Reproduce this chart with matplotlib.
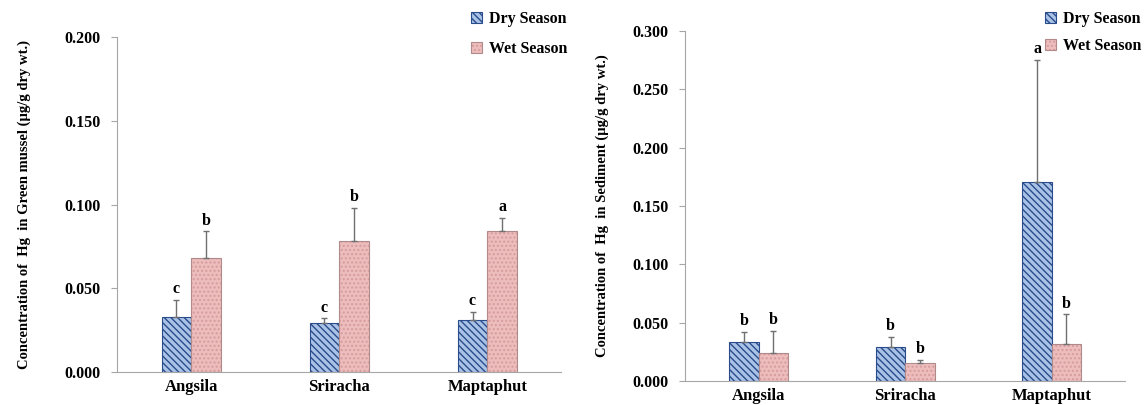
import numpy as np
import matplotlib
matplotlib.use("Agg")
import matplotlib.pyplot as plt

plt.rcParams['font.family'] = ['Liberation Serif', 'DejaVu Serif']
plt.rcParams['font.weight'] = 'bold'
plt.rcParams['hatch.linewidth'] = 1.0

sites = ['Angsila', 'Sriracha', 'Maptaphut']

# Green mussel
mussel_dry = [0.033, 0.029, 0.031]
mussel_dry_err = [0.010, 0.003, 0.005]
mussel_wet = [0.068, 0.078, 0.084]
mussel_wet_err = [0.016, 0.020, 0.008]
mussel_dry_let = ['c', 'c', 'c']
mussel_wet_let = ['b', 'b', 'a']

# Sediment
sed_dry = [0.033, 0.029, 0.171]
sed_dry_err = [0.009, 0.009, 0.104]
sed_wet = [0.024, 0.015, 0.032]
sed_wet_err = [0.019, 0.003, 0.025]
sed_dry_let = ['b', 'b', 'a']
sed_wet_let = ['b', 'b', 'b']

GRAY = '#A6A6A6'


def draw_panel(ax, dry, dry_err, wet, wet_err, dry_let, wet_let, ymax, step, ylabel, lpad):
    x = np.arange(len(sites))
    w = 0.2
    b1 = ax.bar(x - w / 2, dry, w, color='#A9C2E6', edgecolor='#2B4C8C', hatch='\\\\\\\\\\',
                linewidth=0.8, label='Dry Season', zorder=2)
    b2 = ax.bar(x + w / 2, wet, w, color='#EDBDBD', edgecolor='#B08A8A', hatch='....',
                linewidth=0.8, label='Wet Season', zorder=2)
    for b in b2:
        b._hatch_color = matplotlib.colors.to_rgba('#D79C9C')
    ax.errorbar(x - w / 2, dry, yerr=[np.zeros(3), dry_err], fmt='none', ecolor='#707070',
                elinewidth=1, capsize=2, zorder=3)
    ax.errorbar(x + w / 2, wet, yerr=[np.zeros(3), wet_err], fmt='none', ecolor='#707070',
                elinewidth=1, capsize=2, zorder=3)
    for i in range(len(sites)):
        ax.annotate(dry_let[i], (x[i] - w / 2, dry[i] + dry_err[i]), xytext=(0, 2),
                    textcoords='offset points', ha='center', va='bottom', fontsize=11.5, fontweight='bold')
        ax.annotate(wet_let[i], (x[i] + w / 2, wet[i] + wet_err[i]), xytext=(0, 2),
                    textcoords='offset points', ha='center', va='bottom', fontsize=11.5, fontweight='bold')

    ax.set_xlim(-0.5, len(sites) - 0.5)
    ax.set_ylim(0, ymax)
    ax.set_yticks(np.arange(0, ymax + step / 2, step))
    ax.set_yticklabels(['%.3f' % v for v in np.arange(0, ymax + step / 2, step)])
    ax.set_xticks(x)
    ax.set_xticklabels(sites)
    for s in ['top', 'right']:
        ax.spines[s].set_visible(False)
    for s in ['left', 'bottom']:
        ax.spines[s].set_color(GRAY)
    ax.tick_params(axis='y', direction='out', length=4, color=GRAY, pad=8, labelsize=11.5)
    ax.tick_params(axis='x', length=0, pad=5, labelsize=12)
    for lab in ax.get_xticklabels() + ax.get_yticklabels():
        lab.set_fontweight('bold')
    ax.set_ylabel(ylabel, fontsize=10.5, fontweight='bold', labelpad=lpad)
    return b1, b2


fig = plt.figure(figsize=(11.48, 4.05), dpi=100)
ax1 = fig.add_axes([0.102, 0.0815, 0.387, 0.827])
ax2 = fig.add_axes([0.597, 0.0593, 0.383, 0.864])

h1 = draw_panel(ax1, mussel_dry, mussel_dry_err, mussel_wet, mussel_wet_err,
                mussel_dry_let, mussel_wet_let, 0.2, 0.05,
                'Concentration of  Hg  in Green mussel (µg/g dry wt.)', 24)
h2 = draw_panel(ax2, sed_dry, sed_dry_err, sed_wet, sed_wet_err,
                sed_dry_let, sed_wet_let, 0.3, 0.05,
                'Concentration of  Hg  in Sediment (µg/g dry wt.)', 17)

for handles, pos, sp in [(h1, (0.398, 1.008), 0.85), (h2, (0.898, 1.008), 0.7)]:
    fig.legend(handles, ['Dry Season', 'Wet Season'], loc='upper left', bbox_to_anchor=pos,
               frameon=False, handlelength=0.7, handleheight=0.7, handletextpad=0.4,
               labelspacing=sp, prop={'weight': 'bold', 'size': 11.5})

plt.savefig('out.png', dpi=100)
